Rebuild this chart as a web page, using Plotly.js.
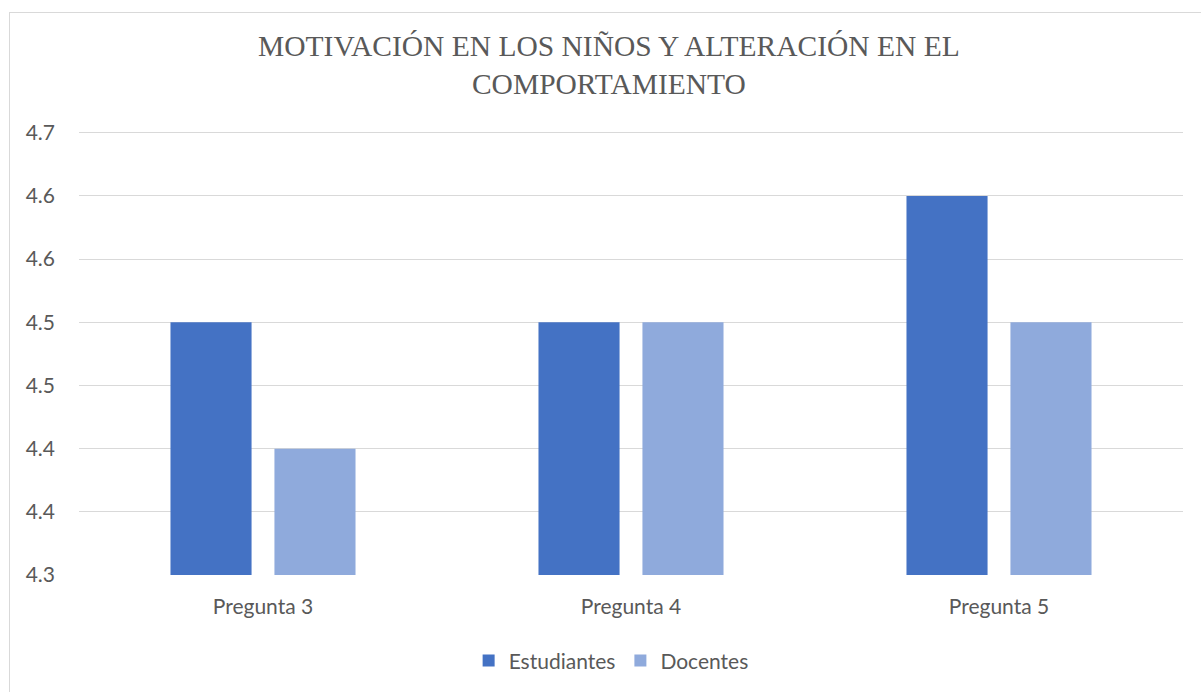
<!DOCTYPE html>
<html>
<head>
<meta charset="utf-8">
<script src="https://cdn.plot.ly/plotly-3.0.1.min.js"></script>
<style>
  html, body { margin: 0; padding: 0; background: #ffffff; }
  #frame { position: absolute; left: 9px; top: 12px; width: 1400px; height: 900px; border: 1px solid #d9d9d9; box-sizing: border-box; }
  #chart { position: absolute; left: 0; top: 0; width: 1201px; height: 692px; }
</style>
</head>
<body>
<div id="frame"></div>
<div id="chart"></div>
<script>
const categories = ["Pregunta 3", "Pregunta 4", "Pregunta 5"];
const estudiantes = [4.50, 4.50, 4.60];
const docentes = [4.40, 4.50, 4.50];
const tickValues = [4.30, 4.35, 4.40, 4.45, 4.50, 4.55, 4.60, 4.65];
const tickLabels = ["4.3", "4.4", "4.4", "4.5", "4.5", "4.6", "4.6", "4.7"];
const chartTitle = "MOTIVACIÓN EN LOS NIÑOS Y ALTERACIÓN EN EL<br>COMPORTAMIENTO";

const labelFont = { family: "Lato, 'Open Sans', sans-serif", size: 21, color: "#595959" };

const traces = [
  { type: "bar", name: "Estudiantes", x: categories, y: estudiantes, base: 0,
    marker: { color: "#4472C4", line: { width: 0 } }, hoverinfo: "x+y+name" },
  { type: "bar", name: "Docentes", x: categories, y: docentes, base: 0,
    marker: { color: "#8FAADC", line: { width: 0 } }, hoverinfo: "x+y+name" }
];

const layout = {
  width: 1201, height: 692,
  paper_bgcolor: "rgba(0,0,0,0)", plot_bgcolor: "rgba(0,0,0,0)",
  margin: { l: 79, r: 18, t: 129, b: 116 },
  barmode: "group", bargap: 0.435, bargroupgap: 0.22,
  title: { text: chartTitle, x: 0.507, xanchor: "center", xref: "container",
           y: 0.919, yanchor: "top", yref: "container",
           font: { family: "'Liberation Serif', 'Times New Roman', serif", size: 29.5, color: "#595959" } },
  xaxis: { type: "category", showgrid: false, zeroline: false, showline: false,
           ticks: "", tickfont: labelFont, ticklabelstandoff: 17 },
  yaxis: { range: [4.3, 4.653], tickvals: tickValues, ticktext: tickLabels,
           showgrid: true, gridcolor: "#d9d9d9", gridwidth: 1, zeroline: false,
           showline: false, ticks: "", tickfont: labelFont, ticklabelstandoff: 23 },
  legend: { orientation: "h", x: 0.482, xanchor: "center", y: -0.19, yanchor: "middle",
            font: labelFont, traceorder: "normal", itemwidth: 30 },
  showlegend: true
};

Plotly.newPlot("chart", traces, layout, { displayModeBar: false, staticPlot: true });
</script>
</body>
</html>
